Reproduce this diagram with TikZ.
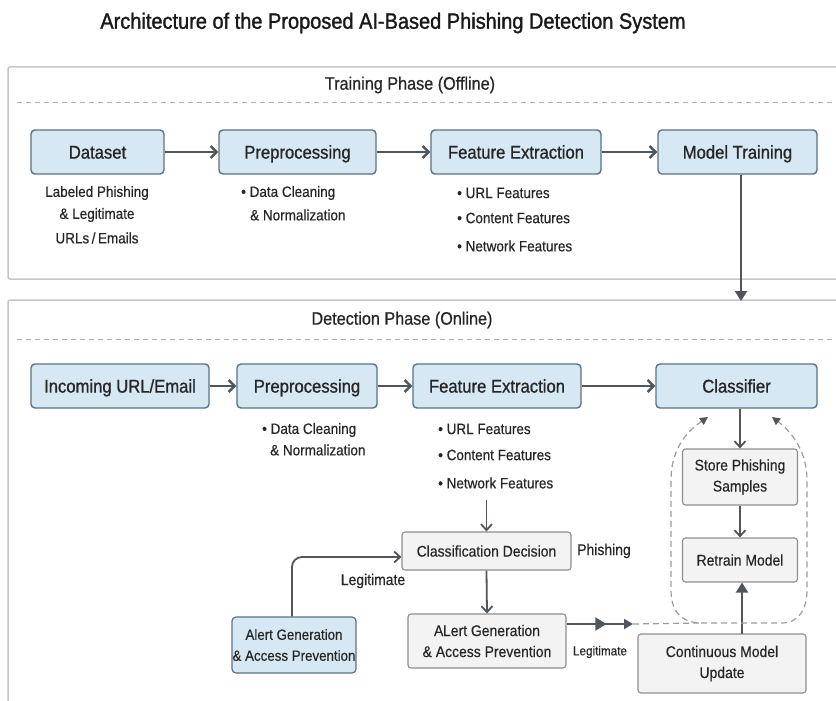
\documentclass[tikz,border=0pt]{standalone}
\usepackage{fontspec}
\setmainfont{Liberation Sans}[FakeStretch=0.9]
\usetikzlibrary{arrows.meta,calc,decorations.markings}
\definecolor{bluefill}{HTML}{D6E8F4}
\definecolor{blueedge}{HTML}{587384}
\definecolor{grayfill}{HTML}{F3F3F3}
\definecolor{grayedge}{HTML}{8E8E8E}
\definecolor{arrowcol}{HTML}{50565C}
\definecolor{paneledge}{HTML}{C6C6C6}
\definecolor{dashcol}{HTML}{9C9C9C}
\definecolor{textcol}{HTML}{262626}
\newcommand{\fb}[1]{\addfontfeature{FakeBold=#1}}
\begin{document}
\begin{tikzpicture}[x=1pt,y=-1pt,
  bluebox/.style={draw=blueedge,fill=bluefill,line width=1.4pt,rounded corners=4pt,
    inner sep=0pt,align=center,text=textcol,font=\fontsize{18.5}{20}\selectfont\fb{0.9}},
  oneline/.style={text height=13.2pt,text depth=0pt},
  graybox/.style={draw=grayedge,fill=grayfill,line width=1.1pt,rounded corners=3pt,
    inner sep=0pt,align=center,text=textcol,font=\fontsize{15.5}{21}\selectfont\fb{0.4}},
  subtext/.style={text=textcol,inner sep=0pt,font=\fontsize{15}{22}\selectfont\fb{0.4}},
  flow/.style={draw=arrowcol,line width=2.4pt,-{Straight Barb[length=6pt,width=12pt,line width=2.4pt]}},
  thinflow/.style={draw=arrowcol,line width=1.8pt,-{Straight Barb[length=6pt,width=11pt,line width=1.8pt]}},
  solidflow/.style={draw=arrowcol,line width=2.2pt,-{Triangle[length=10pt,width=12pt]}},
  dashloop/.style={draw=dashcol,line width=1.2pt,dash pattern=on 6pt off 4pt},
  panel/.style={draw=paneledge,line width=1.5pt,fill=white,rounded corners=2pt},
  phase/.style={text=textcol,inner sep=0pt,font=\fontsize{18}{20}\selectfont\fb{0.6}}
]
\clip (0,0) rectangle (836,701);
\fill[white] (0,0) rectangle (836,701);

% title
\node[text=black!90,inner sep=0pt,font=\fontsize{22.2}{24}\selectfont\fb{1.3}] (title) at (393,23)
  {Architecture of the Proposed AI-Based Phishing Detection System};

% panels
\draw[panel] (8,67) rectangle (850,279);
\draw[panel] (8,300) rectangle (850,720);
\node[phase] (trainlbl) at (410,85) {Training Phase (Offline)};
\node[phase] (detlbl) at (402,320) {Detection Phase (Online)};
\draw[dashcol!80,line width=1pt,dash pattern=on 5pt off 4pt] (17,103) -- (836,103);
\draw[dashcol!80,line width=1pt,dash pattern=on 5pt off 4pt] (17,339) -- (836,339);

% training row
\node[bluebox,oneline,minimum width=133pt,minimum height=44pt] (ds) at (97.5,152) {Dataset};
\node[bluebox,oneline,minimum width=157pt,minimum height=44pt] (pp1) at (297.5,152) {Preprocessing};
\node[bluebox,oneline,minimum width=170pt,minimum height=44pt] (fe1) at (516,152) {Feature Extraction};
\node[bluebox,oneline,minimum width=159pt,minimum height=44pt] (mt) at (737.5,152) {Model Training};
\draw[flow] (ds) -- (pp1);
\draw[flow] (pp1) -- (fe1);
\draw[flow] (fe1) -- (mt);

\node[subtext,anchor=center] (dsl1) at (97,193) {Labeled Phishing};
\node[subtext,anchor=center] (dsl2) at (97,215) {\& Legitimate};
\node[subtext,anchor=center] (dsl3) at (97,238) {URLs\,/\,Emails};
\node[subtext,anchor=west] (pp1a) at (241,193) {• Data Cleaning};
\node[subtext,anchor=west] (pp1b) at (250,215) {\& Normalization};
\node[subtext,anchor=west] (fe1a) at (457,193) {• URL Features};
\node[subtext,anchor=west] (fe1b) at (457,218) {• Content Features};
\node[subtext,anchor=west] (fe1c) at (457,246) {• Network Features};

% detection row
\node[bluebox,oneline,minimum width=178pt,minimum height=44pt] (inc) at (120,386) {Incoming URL/Email};
\node[bluebox,oneline,minimum width=140pt,minimum height=44pt] (pp2) at (307,386) {Preprocessing};
\node[bluebox,oneline,minimum width=168pt,minimum height=44pt] (fe2) at (497,386) {Feature Extraction};
\node[bluebox,oneline,minimum width=161pt,minimum height=44pt] (cls) at (736.5,386) {Classifier};
\draw[flow] (inc) -- (pp2);
\draw[flow] (pp2) -- (fe2);
\draw[flow] (fe2) -- (cls);
\coordinate (mtdown) at (741,301);
\draw[draw=arrowcol,line width=2.2pt,-{Triangle[length=10pt,width=12pt]}] (mt.south -| mtdown) -- (mtdown);

\node[subtext,anchor=west] (pp2a) at (262,430) {• Data Cleaning};
\node[subtext,anchor=west] (pp2b) at (270,450) {\& Normalization};
\node[subtext,anchor=west] (fe2a) at (438,429) {• URL Features};
\node[subtext,anchor=west] (fe2b) at (438,455) {• Content Features};
\node[subtext,anchor=west] (fe2c) at (438,483) {• Network Features};

% decision part
\node[graybox,text height=11.2pt,text depth=0pt,minimum width=169pt,minimum height=38pt] (dec) at (486.5,551) {Classification Decision};
\node[subtext,font=\fontsize{15.5}{18}\selectfont\fb{0.4}] (phish) at (604,551) {Phishing};
\coordinate (fe2out) at (486.5,500);
\draw[thinflow] (fe2out) -- (dec.north);
\node[graybox,minimum width=158pt,minimum height=54pt] (alert2) at (487,641) {A\kern-0.3pt Lert Generation\\\& Access Prevention};
\draw[thinflow] (dec.south) -- (alert2.north);

\node[bluebox,line width=1.2pt,font=\fontsize{14.8}{21}\selectfont\fb{0.4},minimum width=124pt,minimum height=56pt] (alert1) at (294,645) {Alert Generation\\\& Access Prevention};
\coordinate (decin) at ($(dec.west)+(0,6)$);
\draw[thinflow,rounded corners=10pt] (alert1.north -| 292,0) |- (decin);
\node[subtext,font=\fontsize{15.5}{18}\selectfont\fb{0.4}] (legit1) at (373,581) {Legitimate};

% feedback part
\node[graybox,minimum width=115pt,minimum height=56pt] (store) at (740,477) {Store Phishing\\Samples};
\node[graybox,text height=11.2pt,text depth=0pt,minimum width=115pt,minimum height=44pt] (retrain) at (740,560) {Retrain Model};
\node[graybox,minimum width=168pt,minimum height=59pt] (cmu) at (722,663.5) {Continuous Model\\Update};
\draw[thinflow] (cls.south -| store.north) -- (store.north);
\draw[thinflow] (store) -- (retrain);
\coordinate (cmutop) at (742,634);
\draw[solidflow] (cmutop) -- (cmutop |- retrain.south);

% legitimate arrow to loop
\coordinate (alertout) at (alert2.east |- 0,624);
\coordinate (loopin) at (633,624);
\draw[draw=arrowcol,line width=2pt,
  decoration={markings,mark=at position 0.6 with {\arrow{Triangle[length=11pt,width=13pt]}}},
  postaction={decorate},-{Triangle[length=9pt,width=10pt]}] (alertout) -- (loopin);
\node[subtext,font=\fontsize{13}{15}\selectfont\fb{0.4}] (legit2) at (600,652) {Legitimate};

% dashed loop
\coordinate (tipL) at (708,417);
\coordinate (tipR) at (772,417);
\draw[dashloop] (loopin) -- (700,623);
\draw[dashloop,{Triangle[length=8pt,width=8pt,color=arrowcol,fill=arrowcol]}-{Triangle[length=8pt,width=8pt,color=arrowcol,fill=arrowcol]}]
  (tipL) .. controls (686,432) and (671,450) .. (671,480) -- (671,590)
  .. controls (671,612) and (682,623) .. (702,623) -- (782,623)
  .. controls (798,623) and (807,610) .. (807,590) -- (807,480)
  .. controls (807,452) and (792,432) .. (tipR);
\end{tikzpicture}
\end{document}
